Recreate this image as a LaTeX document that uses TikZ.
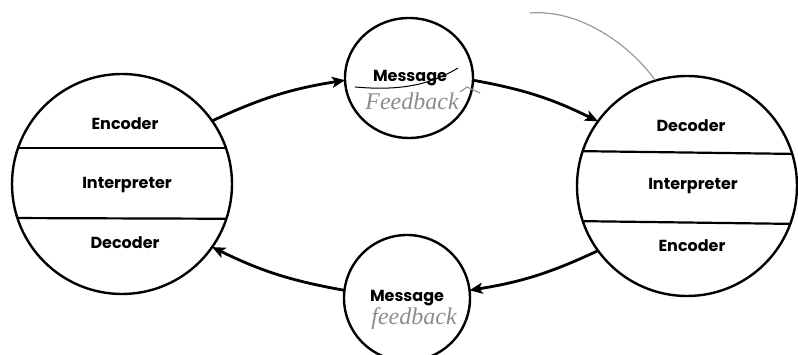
\documentclass[tikz,border=0pt]{standalone}
\usepackage{fontspec}
\setmainfont{Poppins}
\newfontfamily\hand{Liberation Serif}
\usetikzlibrary{arrows.meta,shapes.geometric}
\begin{document}
\begin{tikzpicture}[x=1pt,y=1pt,
  ring/.style={circle,draw,line width=2.4pt,inner sep=0pt,outer sep=0pt,minimum size=#1},
  oval/.style={ellipse,draw,line width=2.4pt,inner sep=0pt,outer sep=0pt},
  lbl/.style={anchor=base,inner sep=0pt,font=\fontsize{16}{18}\selectfont\bfseries},
  hw/.style={anchor=base,inner sep=0pt,font=\hand\itshape\fontsize{24}{26}\selectfont,text=black!45},
  divider/.style={line width=2.2pt},
  flow/.style={line width=2.8pt,-{Stealth[length=13pt,width=11pt,inset=3pt]}},
  note/.style={draw=black!40,line width=1.2pt}]
\useasboundingbox (0,0) rectangle (798,355);
\clip (0,0) rectangle (798,355);
% circles
\node[ring=220pt] (L) at (122,171) {};
\node[ring=220pt] (R) at (687,169) {};
\node[oval,minimum width=128pt,minimum height=120pt] (T) at (409,277) {};
\node[ring=126pt] (B) at (407,57) {};
% dividers
\begin{scope}
  \clip (L.center) circle[radius=110pt];
  \draw[divider] (0,207) -- (300,207);
  \draw[divider] (0,137) -- (300,136);
\end{scope}
\begin{scope}
  \clip (R.center) circle[radius=110pt];
  \draw[divider] (570,204) -- (800,201);
  \draw[divider] (570,134) -- (800,131);
\end{scope}
% labels
\node[lbl] (l1) at (125,225) {Encoder};
\node[lbl] (l2) at (127,166) {Interpreter};
\node[lbl] (l3) at (125,106) {Decoder};
\node[lbl] (r1) at (691,223) {Decoder};
\node[lbl] (r2) at (693,165) {Interpreter};
\node[lbl] (r3) at (692,103) {Encoder};
\node[lbl] (tm) at (410,273) {Message};
\node[lbl] (bm) at (407,53) {Message};
\node[hw] (tf) at (412,245) {Feedback};
\node[hw] (bf) at (414,30) {feedback};
% strike under top Message
\draw[line width=1pt] (355,268) .. controls (400,264) and (430,270) .. (458,287);
% annotation line
\draw[note] (530,342) .. controls (580,346) and (630,310) .. (655,275);
\draw[note] (460,263) -- (467,268) -- (480,262);
% arrows
\draw[flow] (L.35) to[bend left=8] (T.182);
\draw[flow] (T.358) to[bend left=8] (R.144);
\draw[flow] (R.216) to[bend left=8] (B.7);
\draw[flow] (B.173) to[bend left=8] (L.325);
\end{tikzpicture}
\end{document}
